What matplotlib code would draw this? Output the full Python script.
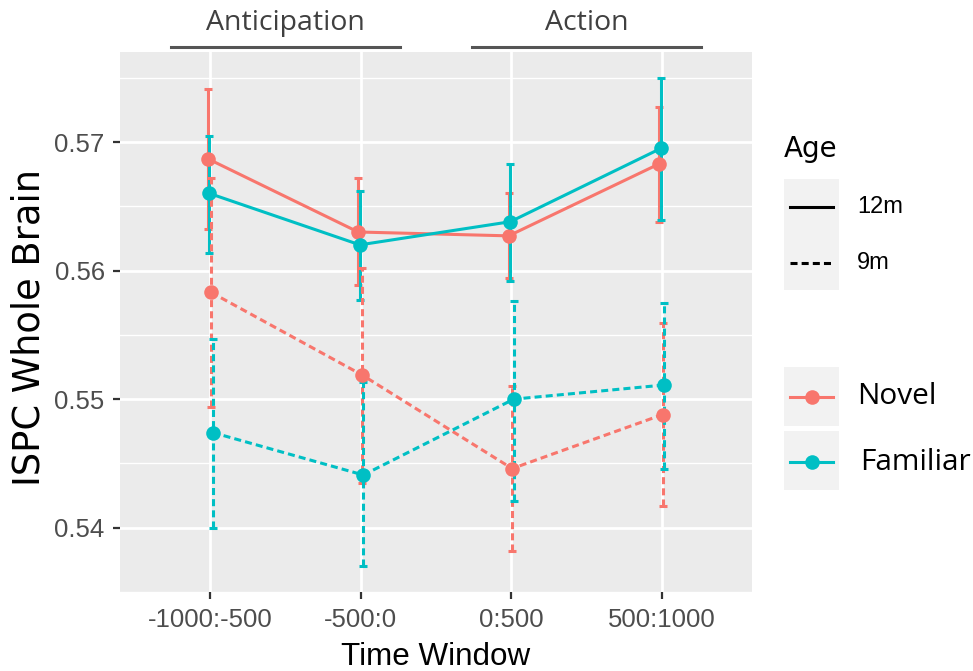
import matplotlib
matplotlib.use("Agg")
import matplotlib.pyplot as plt
from matplotlib.lines import Line2D
from matplotlib.patches import Rectangle
import numpy as np

# ---- data ----
windows = ["-1000:-500", "-500:0", "0:500", "500:1000"]

novel_12m = [0.5687, 0.5630, 0.5627, 0.5683]
novel_12m_lo = [0.5632, 0.5589, 0.5594, 0.5638]
novel_12m_hi = [0.5741, 0.5672, 0.5660, 0.5727]

familiar_12m = [0.5660, 0.5620, 0.5638, 0.5695]
familiar_12m_lo = [0.5614, 0.5577, 0.5592, 0.5639]
familiar_12m_hi = [0.5705, 0.5662, 0.5683, 0.5750]

novel_9m = [0.5583, 0.5519, 0.5446, 0.5488]
novel_9m_lo = [0.5494, 0.5435, 0.5382, 0.5417]
novel_9m_hi = [0.5672, 0.5602, 0.5510, 0.5559]

familiar_9m = [0.5474, 0.5441, 0.5500, 0.5511]
familiar_9m_lo = [0.5400, 0.5370, 0.5421, 0.5446]
familiar_9m_hi = [0.5547, 0.5513, 0.5576, 0.5575]

phases = ["Anticipation", "Action"]
phase_centers = [1.5, 3.5]

RED = "#F8766D"
TEAL = "#00BFC4"
LW = 2.2
DASH = (0, (2.3, 1.35))

fig = plt.figure(figsize=(9.73, 6.71), dpi=100)
W, H = 973, 671
ax = fig.add_axes([120 / W, 1 - 592 / H, (752 - 120) / W, (592 - 52) / H])
ax.set_facecolor("#EBEBEB")
for s in ax.spines.values():
    s.set_visible(False)

x = np.arange(1, len(windows) + 1)
series = [
    (novel_12m, novel_12m_lo, novel_12m_hi, RED, "-", -0.017),
    (familiar_12m, familiar_12m_lo, familiar_12m_hi, TEAL, "-", -0.006),
    (novel_9m, novel_9m_lo, novel_9m_hi, RED, DASH, 0.006),
    (familiar_9m, familiar_9m_lo, familiar_9m_hi, TEAL, DASH, 0.017),
]
for vals, lo, hi, col, ls, off in series:
    vals = np.array(vals); lo = np.array(lo); hi = np.array(hi)
    xx = x + off
    eb = ax.errorbar(xx, vals, yerr=[vals - lo, hi - vals], fmt="none",
                     ecolor=col, elinewidth=LW, capsize=2.7, capthick=LW, zorder=3)
    for lc in eb[2]:
        lc.set_linestyle(ls)
    ax.plot(xx, vals, color=col, lw=LW, linestyle=ls, zorder=4)
    ax.plot(xx, vals, "o", color=col, ms=10.5, zorder=5, markeredgewidth=0)

ax.set_xlim(0.4, 4.6)
ax.set_ylim(0.53504, 0.577)
ax.set_xticks(x)
ax.set_xticklabels(windows)
ax.set_yticks([0.54, 0.55, 0.56, 0.57])
ax.set_yticklabels(["0.54", "0.55", "0.56", "0.57"])
ax.set_yticks([0.535, 0.545, 0.555, 0.565, 0.575], minor=True)
ax.grid(which="major", color="white", lw=2.0, zorder=0)
ax.grid(which="minor", axis="y", color="white", lw=1.0, zorder=0)
ax.set_axisbelow(True)
ax.tick_params(axis="both", which="major", length=5, width=1.6, color="#333333",
               labelsize=18.5, labelcolor="#4D4D4D")
ax.tick_params(axis="y", which="major", pad=6)
ax.tick_params(axis="x", which="major", pad=6.5)
ax.tick_params(axis="both", which="minor", length=0)
for lab in ax.get_xticklabels() + ax.get_yticklabels():
    lab.set_family("Liberation Sans")

ax.set_xlabel("Time Window", fontsize=22.6, family="Liberation Sans")
ax.xaxis.set_label_coords(0.5, -0.093)
ax.set_ylabel("ISPC Whole Brain", fontsize=26.5, family="DejaVu Sans")
ax.yaxis.set_label_coords(-0.115, 0.49)

# ---- phase annotations above the panel ----
trans = matplotlib.transforms.blended_transform_factory(ax.transData, fig.transFigure)
for name, c in zip(phases, phase_centers):
    ax.add_line(Line2D([c - 0.76, c + 0.76], [1 - 47 / H] * 2, transform=trans,
                       color="#555555", lw=2.2, clip_on=False))
    fig.text(c, 1 - 23 / H, name, transform=trans, ha="center", va="center",
             fontsize=20.5, family=["Open Sans", "DejaVu Sans"], color="#404040")

# ---- legends (manual, ggplot style) ----
def fx(px):
    return px / W

def fy(py):
    return 1 - py / H

fig.text(fx(784), fy(149), "Age", fontsize=20, family="DejaVu Sans",
         va="center", ha="left", color="black")
fig.add_artist(Rectangle((fx(784), fy(290)), fx(55), 111 / H, transform=fig.transFigure,
                         facecolor="#F2F2F2", edgecolor="none"))
age_items = [("12m", "-", 207), ("9m", DASH, 263)]
for lab, ls, py in age_items:
    fig.add_artist(Line2D([fx(790), fx(833)], [fy(py)] * 2, transform=fig.transFigure,
                          color="black", lw=LW, linestyle=ls))
    fig.text(fx(857), fy(py), lab, fontsize=17, family="Liberation Sans",
             va="center", ha="left")

type_items = [("Novel", RED, 367, 426, 397, 857), ("Familiar", TEAL, 431, 490, 462, 860)]
for lab, col, top, bot, py, tx in type_items:
    fig.add_artist(Rectangle((fx(784), fy(bot)), fx(55), (bot - top) / H,
                             transform=fig.transFigure, facecolor="#F2F2F2", edgecolor="none"))
    fig.add_artist(Line2D([fx(790), fx(833)], [fy(py)] * 2, transform=fig.transFigure,
                          color=col, lw=LW))
    fig.add_artist(Line2D([fx(811.5)], [fy(py)], transform=fig.transFigure,
                          color=col, marker="o", ms=10.5, markeredgewidth=0))
    fig.text(fx(tx), fy(py), lab, fontsize=21.5, family=["Open Sans", "DejaVu Sans"],
             va="center", ha="left")

fig.savefig("out.png", dpi=100, facecolor="white")
